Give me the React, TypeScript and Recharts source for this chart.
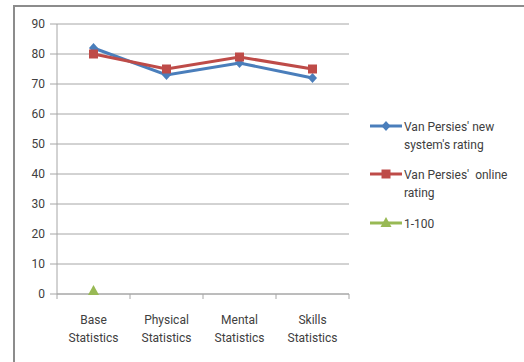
import { LineChart, Line, XAxis, YAxis, CartesianGrid } from 'recharts';

const categories = ['Base Statistics', 'Physical Statistics', 'Mental Statistics', 'Skills Statistics'];
const newSystemRating = [82, 73, 77, 72];
const onlineRating = [80, 75, 79, 75];
const scaleMarker = [1, null, null, null];
const yTicks = [0, 10, 20, 30, 40, 50, 60, 70, 80, 90];

const BLUE = '#4a7ebb';
const RED = '#be4b48';
const GREEN = '#98b954';
const GRID = '#a6a6a6';
const TEXT = '#404040';
const FONT = 'Roboto, "Liberation Sans", sans-serif';

const data = categories.map((name, i) => ({
  name,
  newSystem: newSystemRating[i],
  online: onlineRating[i],
  scale: scaleMarker[i],
}));

const WIDTH = 524;
const HEIGHT = 362;
const MARGIN = { top: 24, right: 175, bottom: 28, left: 13 };
const Y_AXIS_W = 44;
const BAND = (WIDTH - MARGIN.left - MARGIN.right - Y_AXIS_W) / categories.length;

type MarkerKind = 'diamond' | 'square' | 'triangle';

function markerPath(kind: MarkerKind, cx: number, cy: number) {
  if (kind === 'diamond') return `M${cx},${cy - 5}L${cx + 4.5},${cy}L${cx},${cy + 5}L${cx - 4.5},${cy}Z`;
  if (kind === 'square') return `M${cx - 4.5},${cy - 4.5}h9v9h-9Z`;
  return `M${cx},${cy - 6}L${cx + 5.5},${cy + 4}L${cx - 5.5},${cy + 4}Z`;
}

const makeDot = (kind: MarkerKind, color: string) => (props: any) => {
  const { cx, cy, index, value } = props;
  if (value == null || cx == null || cy == null) return <g key={`d-${index}`} />;
  return <path key={`d-${index}`} d={markerPath(kind, cx, cy)} fill={color} />;
};

// Category label split on two lines, with band boundary tick marks
const CategoryTick = (props: any) => {
  const { x, y, payload, index } = props;
  const [first, second] = String(payload.value).split(' ');
  const left = x - BAND / 2;
  return (
    <g>
      <line x1={left} y1={y - 8} x2={left} y2={y - 3} stroke={GRID} />
      {index === categories.length - 1 && (
        <line x1={x + BAND / 2} y1={y - 8} x2={x + BAND / 2} y2={y - 3} stroke={GRID} />
      )}
      <text x={x} y={y + 22} textAnchor="middle" fill={TEXT} fontSize={12} fontFamily={FONT}>
        {first}
      </text>
      <text x={x} y={y + 40} textAnchor="middle" fill={TEXT} fontSize={12} fontFamily={FONT}>
        {second}
      </text>
    </g>
  );
};

const legendItems = [
  { lines: ["Van Persies' new", "system's rating"], color: BLUE, kind: 'diamond' as MarkerKind },
  { lines: ["Van Persies'  online", 'rating'], color: RED, kind: 'square' as MarkerKind },
  { lines: ['1-100'], color: GREEN, kind: 'triangle' as MarkerKind },
];
const legendTops = [0, 48, 97];

const ChartLegend = () => (
  <svg width={150} height={120} style={{ position: 'absolute', left: 370, top: 120 }}>
    {legendItems.map((item, i) => {
      const top = legendTops[i];
      return (
        <g key={i}>
          <line x1={0} y1={top + 6} x2={32} y2={top + 6} stroke={item.color} strokeWidth={3} />
          <path d={markerPath(item.kind, 16, top + 6)} fill={item.color} />
          {item.lines.map((t, j) => (
            <text
              key={j}
              x={34}
              y={top + 11 + j * 18}
              fill={TEXT}
              fontSize={12}
              fontFamily={FONT}
              style={{ whiteSpace: 'pre' }}
            >
              {t}
            </text>
          ))}
        </g>
      );
    })}
  </svg>
);

export default function App() {
  return (
    <div
      style={{
        position: 'fixed',
        left: 0,
        top: 0,
        width: WIDTH,
        height: HEIGHT,
        background: '#fff',
        overflow: 'hidden',
      }}
    >
      <div
        style={{
          position: 'absolute',
          left: 13,
          top: 5,
          width: WIDTH,
          height: HEIGHT,
          borderLeft: '2px solid #8c8c8c',
          borderTop: '2px solid #8c8c8c',
        }}
      />
      <div style={{ position: 'absolute', left: 0, top: 0 }}>
        <LineChart width={WIDTH} height={HEIGHT} data={data} margin={MARGIN}>
          <CartesianGrid vertical={false} stroke={GRID} />
          <XAxis
            dataKey="name"
            stroke={GRID}
            tickLine={false}
            tick={<CategoryTick />}
            interval={0}
            height={40}
            padding={{ left: BAND / 2, right: BAND / 2 }}
          />
          <YAxis
            domain={[0, 90]}
            ticks={yTicks}
            width={Y_AXIS_W}
            stroke={GRID}
            tickSize={7}
            tickMargin={5}
            tick={{ fill: TEXT, fontSize: 12, fontFamily: FONT }}
          />
          <Line
            dataKey="newSystem"
            stroke={BLUE}
            strokeWidth={3}
            dot={makeDot('diamond', BLUE)}
            isAnimationActive={false}
          />
          <Line
            dataKey="online"
            stroke={RED}
            strokeWidth={3}
            dot={makeDot('square', RED)}
            isAnimationActive={false}
          />
          <Line
            dataKey="scale"
            stroke={GREEN}
            strokeWidth={3}
            dot={makeDot('triangle', GREEN)}
            connectNulls={false}
            isAnimationActive={false}
          />
        </LineChart>
      </div>
      <ChartLegend />
    </div>
  );
}
